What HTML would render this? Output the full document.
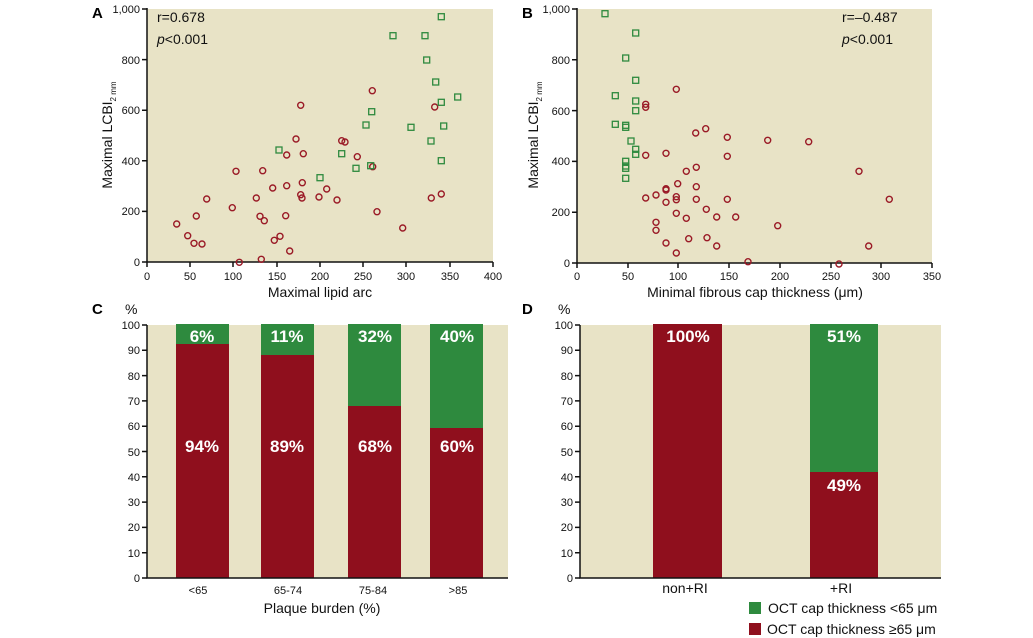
<!DOCTYPE html>
<html><head><meta charset="utf-8"><style>
body{margin:0;background:#fff;}
svg{display:block;font-family:"Liberation Sans",sans-serif;}
.t{font-family:"Liberation Sans Narrow","Liberation Sans",sans-serif;font-size:11px;fill:#111;}
.lab{font-size:14px;fill:#111;}
.pl{font-weight:bold;font-size:17px;fill:#fff;font-family:"Liberation Sans Narrow","Liberation Sans",sans-serif;}
.r circle{fill:none;stroke:#9a1a26;stroke-width:1.4;}
.g rect{fill:none;stroke:#2e8a3e;stroke-width:1.3;}
</style></head><body>
<svg width="1033" height="638" viewBox="0 0 1033 638">
<rect x="147" y="9" width="346" height="253" fill="#e8e3c6"/>
<rect x="577" y="9" width="355" height="254" fill="#e8e3c6"/>
<rect x="147" y="325" width="361" height="253" fill="#e8e3c6"/>
<rect x="580" y="325" width="361" height="253" fill="#e8e3c6"/>

<!-- Panel A axes -->
<g stroke="#111" stroke-width="1.5" fill="none">
<path d="M147,8V262H493"/>
<path d="M142,9h5M142,59.6h5M142,110.2h5M142,160.8h5M142,211.4h5M142,262h5"/>
<path d="M147,262v5M190,262v5M233,262v5M277,262v5M320,262v5M363,262v5M406,262v5M450,262v5M493,262v5"/>
</g>
<g class="t" text-anchor="end">
<text x="140" y="13">1,000</text><text x="140" y="64">800</text><text x="140" y="114">600</text><text x="140" y="165">400</text><text x="140" y="215">200</text><text x="140" y="266">0</text>
</g>
<g class="t" text-anchor="middle">
<text x="147" y="280">0</text><text x="190" y="280">50</text><text x="233" y="280">100</text><text x="277" y="280">150</text><text x="320" y="280">200</text><text x="363" y="280">250</text><text x="406" y="280">300</text><text x="450" y="280">350</text><text x="493" y="280">400</text>
</g>
<text class="lab" x="320" y="297" text-anchor="middle">Maximal lipid arc</text>
<text class="lab" transform="translate(112,135) rotate(-90)" text-anchor="middle">Maximal LCBI<tspan font-size="8" dy="4">2 mm</tspan></text>
<text x="92" y="18" font-weight="bold" font-size="15">A</text>
<text class="lab" x="157" y="22">r=0.678</text>
<text class="lab" x="157" y="44"><tspan font-style="italic">p</tspan>&lt;0.001</text>

<g class="r">
<circle cx="176.7" cy="224" r="3"/><circle cx="187.7" cy="235.7" r="3"/><circle cx="194" cy="243.3" r="3"/><circle cx="202" cy="244" r="3"/><circle cx="196.3" cy="216" r="3"/><circle cx="206.7" cy="199" r="3"/><circle cx="232.3" cy="207.7" r="3"/><circle cx="236" cy="171.3" r="3"/><circle cx="239.3" cy="262.3" r="3"/><circle cx="256.3" cy="198" r="3"/><circle cx="260" cy="216.3" r="3"/><circle cx="264.3" cy="220.7" r="3"/><circle cx="262.7" cy="170.7" r="3"/><circle cx="261.3" cy="259.3" r="3"/><circle cx="274.3" cy="240.3" r="3"/><circle cx="280" cy="236.3" r="3"/><circle cx="272.7" cy="188" r="3"/><circle cx="285.7" cy="215.7" r="3"/><circle cx="286.7" cy="185.7" r="3"/><circle cx="286.7" cy="155" r="3"/><circle cx="289.7" cy="251" r="3"/><circle cx="296" cy="139" r="3"/><circle cx="300.7" cy="105.3" r="3"/><circle cx="300.7" cy="194.7" r="3"/><circle cx="302" cy="198" r="3"/><circle cx="302.3" cy="182.7" r="3"/><circle cx="303.3" cy="153.7" r="3"/><circle cx="319" cy="197" r="3"/><circle cx="326.7" cy="189" r="3"/><circle cx="337" cy="200" r="3"/><circle cx="341.7" cy="140.7" r="3"/><circle cx="345" cy="142" r="3"/><circle cx="357.3" cy="156.7" r="3"/><circle cx="372.3" cy="90.7" r="3"/><circle cx="372.7" cy="166.7" r="3"/><circle cx="377" cy="211.7" r="3"/><circle cx="402.7" cy="228" r="3"/><circle cx="431.3" cy="198" r="3"/><circle cx="434.7" cy="107" r="3"/><circle cx="441.3" cy="194" r="3"/>
</g>
<g class="g">
<rect x="276" y="147" width="6" height="6"/><rect x="317" y="174.7" width="6" height="6"/><rect x="338.7" y="150.7" width="6" height="6"/><rect x="353" y="165.3" width="6" height="6"/><rect x="363" y="122" width="6" height="6"/><rect x="367.7" y="162.7" width="6" height="6"/><rect x="368.7" y="108.7" width="6" height="6"/><rect x="390" y="32.7" width="6" height="6"/><rect x="422" y="32.7" width="6" height="6"/><rect x="423.7" y="57" width="6" height="6"/><rect x="438.3" y="13.7" width="6" height="6"/><rect x="432.7" y="79" width="6" height="6"/><rect x="454.7" y="94" width="6" height="6"/><rect x="438.3" y="99.3" width="6" height="6"/><rect x="408" y="124.3" width="6" height="6"/><rect x="440.7" y="123" width="6" height="6"/><rect x="428" y="138" width="6" height="6"/><rect x="438.3" y="157.7" width="6" height="6"/>
</g>

<!-- Panel B axes -->
<g stroke="#111" stroke-width="1.5" fill="none">
<path d="M577,8V263H932"/>
<path d="M572,9h5M572,59.8h5M572,110.6h5M572,161.4h5M572,212.2h5M572,263h5"/>
<path d="M577,263v5M628,263v5M678,263v5M729,263v5M780,263v5M831,263v5M881,263v5M932,263v5"/>
</g>
<g class="t" text-anchor="end">
<text x="570" y="13">1,000</text><text x="570" y="64">800</text><text x="570" y="115">600</text><text x="570" y="165">400</text><text x="570" y="216">200</text><text x="570" y="267">0</text>
</g>
<g class="t" text-anchor="middle">
<text x="577" y="280">0</text><text x="628" y="280">50</text><text x="678" y="280">100</text><text x="729" y="280">150</text><text x="780" y="280">200</text><text x="831" y="280">250</text><text x="881" y="280">300</text><text x="932" y="280">350</text>
</g>
<text class="lab" x="755" y="297" text-anchor="middle">Minimal fibrous cap thickness (μm)</text>
<text class="lab" transform="translate(538,135) rotate(-90)" text-anchor="middle">Maximal LCBI<tspan font-size="8" dy="4">2 mm</tspan></text>
<text x="522" y="18" font-weight="bold" font-size="15">B</text>
<text class="lab" x="842" y="22">r=–0.487</text>
<text class="lab" x="842" y="44"><tspan font-style="italic">p</tspan>&lt;0.001</text>

<g class="g">
<rect x="602" y="10.7" width="6" height="6"/><rect x="632.7" y="30" width="6" height="6"/><rect x="622.7" y="55" width="6" height="6"/><rect x="632.7" y="77.3" width="6" height="6"/><rect x="612.3" y="92.7" width="6" height="6"/><rect x="632.7" y="98" width="6" height="6"/><rect x="632.7" y="107.7" width="6" height="6"/><rect x="612.3" y="121.3" width="6" height="6"/><rect x="622.7" y="122.3" width="6" height="6"/><rect x="622.7" y="124.3" width="6" height="6"/><rect x="628" y="138" width="6" height="6"/><rect x="632.7" y="146.3" width="6" height="6"/><rect x="632.7" y="151.3" width="6" height="6"/><rect x="622.7" y="158.3" width="6" height="6"/><rect x="622.7" y="163" width="6" height="6"/><rect x="622.7" y="165.3" width="6" height="6"/><rect x="622.7" y="175.3" width="6" height="6"/>
</g>
<g class="r">
<circle cx="676.3" cy="89.3" r="3"/><circle cx="645.7" cy="104.3" r="3"/><circle cx="645.7" cy="107.3" r="3"/><circle cx="645.7" cy="155.3" r="3"/><circle cx="666" cy="153.3" r="3"/><circle cx="695.7" cy="133" r="3"/><circle cx="705.7" cy="128.7" r="3"/><circle cx="727.3" cy="137.3" r="3"/><circle cx="727.3" cy="156.3" r="3"/><circle cx="767.7" cy="140.3" r="3"/><circle cx="808.7" cy="141.7" r="3"/><circle cx="859" cy="171.3" r="3"/><circle cx="889.3" cy="199.3" r="3"/><circle cx="868.7" cy="246" r="3"/><circle cx="686.3" cy="171.3" r="3"/><circle cx="696.3" cy="167.3" r="3"/><circle cx="677.7" cy="183.7" r="3"/><circle cx="696.3" cy="186.7" r="3"/><circle cx="666" cy="188.7" r="3"/><circle cx="666" cy="190" r="3"/><circle cx="656" cy="195" r="3"/><circle cx="645.7" cy="198" r="3"/><circle cx="676.3" cy="196.7" r="3"/><circle cx="676.3" cy="199.7" r="3"/><circle cx="666" cy="202.3" r="3"/><circle cx="696.3" cy="199.3" r="3"/><circle cx="727.3" cy="199.3" r="3"/><circle cx="706.3" cy="209.3" r="3"/><circle cx="676.3" cy="213.3" r="3"/><circle cx="686.3" cy="218.3" r="3"/><circle cx="716.7" cy="217" r="3"/><circle cx="735.7" cy="217" r="3"/><circle cx="777.7" cy="225.7" r="3"/><circle cx="656" cy="222.3" r="3"/><circle cx="656" cy="230.3" r="3"/><circle cx="666" cy="243" r="3"/><circle cx="688.7" cy="238.7" r="3"/><circle cx="707" cy="237.7" r="3"/><circle cx="716.7" cy="246" r="3"/><circle cx="676.3" cy="253" r="3"/><circle cx="748" cy="261.7" r="3"/><circle cx="839" cy="264" r="3"/>
</g>

<!-- Panel C -->
<g fill="#2e8a3e">
<rect x="176" y="324" width="53" height="254"/><rect x="261" y="324" width="53" height="254"/><rect x="348" y="324" width="53" height="254"/><rect x="430" y="324" width="53" height="254"/>
</g>
<g fill="#8f0f1d">
<rect x="176" y="344" width="53" height="234"/><rect x="261" y="355" width="53" height="223"/><rect x="348" y="406" width="53" height="172"/><rect x="430" y="428" width="53" height="150"/>
</g>
<g class="pl" text-anchor="middle">
<text x="202" y="342">6%</text><text x="287" y="342">11%</text><text x="375" y="342">32%</text><text x="457" y="342">40%</text>
<text x="202" y="452">94%</text><text x="287" y="452">89%</text><text x="375" y="452">68%</text><text x="457" y="452">60%</text>
</g>
<g stroke="#111" stroke-width="1.5" fill="none">
<path d="M147,325V578H508"/>
<path d="M142,325h5M142,350.3h5M142,375.6h5M142,400.9h5M142,426.2h5M142,451.5h5M142,476.8h5M142,502.1h5M142,527.4h5M142,552.7h5M142,578h5"/>
</g>
<g class="t" text-anchor="end">
<text x="140" y="329">100</text><text x="140" y="354">90</text><text x="140" y="380">80</text><text x="140" y="405">70</text><text x="140" y="430">60</text><text x="140" y="456">50</text><text x="140" y="481">40</text><text x="140" y="506">30</text><text x="140" y="531">20</text><text x="140" y="557">10</text><text x="140" y="582">0</text>
</g>
<g class="t" text-anchor="middle">
<text x="198" y="594">&lt;65</text><text x="288" y="594">65-74</text><text x="373" y="594">75-84</text><text x="458" y="594">&gt;85</text>
</g>
<text class="lab" x="322" y="613" text-anchor="middle">Plaque burden (%)</text>
<text x="92" y="314" font-weight="bold" font-size="15">C</text>
<text class="lab" x="125" y="314">%</text>

<!-- Panel D -->
<rect x="653" y="324" width="69" height="254" fill="#8f0f1d"/>
<rect x="810" y="324" width="68" height="254" fill="#2e8a3e"/>
<rect x="810" y="472" width="68" height="106" fill="#8f0f1d"/>
<g class="pl" text-anchor="middle">
<text x="688" y="342">100%</text><text x="844" y="342">51%</text><text x="844" y="491">49%</text>
</g>
<g stroke="#111" stroke-width="1.5" fill="none">
<path d="M580,325V578H941"/>
<path d="M575,325h5M575,350.3h5M575,375.6h5M575,400.9h5M575,426.2h5M575,451.5h5M575,476.8h5M575,502.1h5M575,527.4h5M575,552.7h5M575,578h5"/>
</g>
<g class="t" text-anchor="end">
<text x="573" y="329">100</text><text x="573" y="354">90</text><text x="573" y="380">80</text><text x="573" y="405">70</text><text x="573" y="430">60</text><text x="573" y="456">50</text><text x="573" y="481">40</text><text x="573" y="506">30</text><text x="573" y="531">20</text><text x="573" y="557">10</text><text x="573" y="582">0</text>
</g>
<g class="lab" text-anchor="middle" font-size="13">
<text x="685" y="593">non+RI</text><text x="841" y="593">+RI</text>
</g>
<text x="522" y="314" font-weight="bold" font-size="15">D</text>
<text class="lab" x="558" y="314">%</text>
<rect x="749" y="602" width="12" height="12" fill="#2e8a3e"/>
<rect x="749" y="623" width="12" height="12" fill="#8f0f1d"/>
<text class="lab" x="768" y="613" font-size="13">OCT cap thickness &lt;65 μm</text>
<text class="lab" x="767" y="634" font-size="13">OCT cap thickness ≥65 μm</text>
</svg>
</body></html>
